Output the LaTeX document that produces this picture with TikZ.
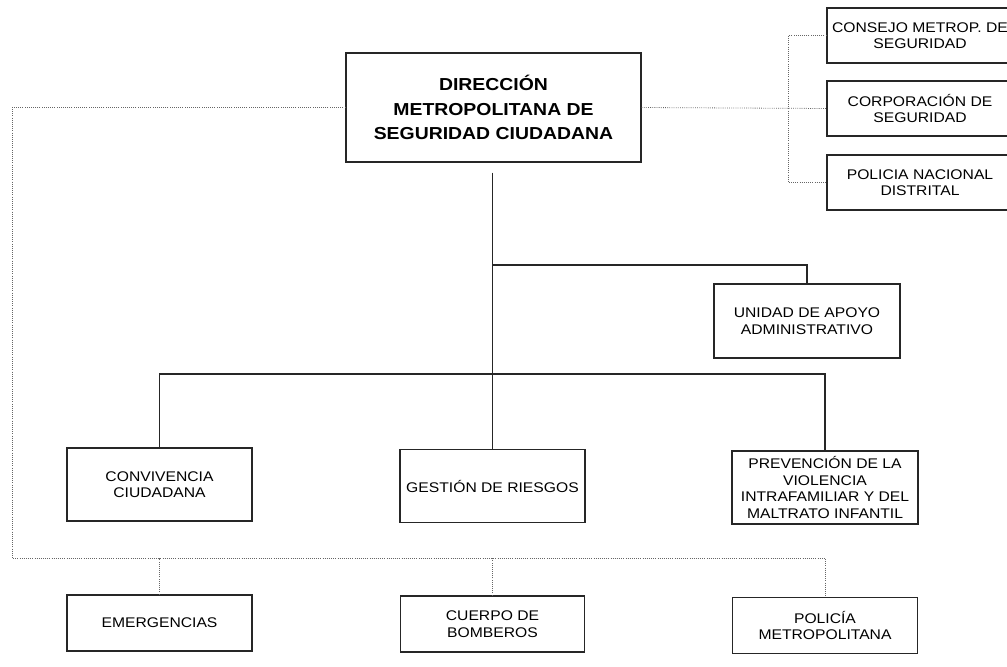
\documentclass[tikz,border=0pt]{standalone}
\usepackage{fontspec}
\setmainfont{Liberation Sans}[FakeStretch=1.12]
\tikzset{
	caja/.style={draw=black!85, line width=1pt, fill=white, align=center, inner sep=2pt,
		font=\fontsize{10.5}{12.3}\selectfont},
	cajagrande/.style={caja, font=\fontsize{13}{18.6}\selectfont\bfseries},
	linea/.style={draw=black!85, line width=0.9pt},
	punteado/.style={draw=black!60, line width=0.6pt, densely dotted}
}
\begin{document}
\begin{tikzpicture}[x=0.75pt, y=-0.75pt]
	\clip (0,0) rectangle (1007,667);
	\fill[white] (0,0) rectangle (1007,667);
	% conexiones
	\coordinate (RamaA) at (492.5,265);
	\coordinate (RamaB) at (492.5,374);
	\coordinate (Esquina) at (12,558);
	\node (Direccion) at (493.5,107.5) [cajagrande, minimum width=221.25pt, minimum height=81.75pt] {DIRECCIÓN\\METROPOLITANA DE\\SEGURIDAD CIUDADANA};
	\node (Consejo) at (920,35.5) [caja, minimum width=139.5pt, minimum height=41.25pt] {CONSEJO METROP. DE\\SEGURIDAD};
	\node (Corporacion) at (920,108.5) [caja, minimum width=139.5pt, minimum height=41.25pt] {CORPORACIÓN DE\\SEGURIDAD};
	\node (PoliciaNacional) at (920,182.5) [caja, minimum width=139.5pt, minimum height=41.25pt] {POLICIA NACIONAL\\DISTRITAL};
	\node (Unidad) at (807,321) [caja, minimum width=139.5pt, minimum height=55.5pt] {UNIDAD DE APOYO\\ADMINISTRATIVO};
	\node (Convivencia) at (159.5,484.5) [caja, minimum width=138.75pt, minimum height=54.75pt] {CONVIVENCIA\\CIUDADANA};
	\node (Gestion) at (492.5,486) [caja, minimum width=138.75pt, minimum height=54.75pt] {GESTIÓN DE RIESGOS};
	\node (Prevencion) at (825,487.5) [caja, minimum width=139.5pt, minimum height=54.75pt] {PREVENCIÓN DE LA\\VIOLENCIA\\INTRAFAMILIAR Y DEL\\MALTRATO INFANTIL};
	\node (Emergencias) at (159.5,623) [caja, minimum width=138.75pt, minimum height=42pt] {EMERGENCIAS};
	\node (Bomberos) at (492.5,624) [caja, minimum width=138pt, minimum height=42pt] {CUERPO DE\\BOMBEROS};
	\node (PoliciaMetro) at (825,625.5) [caja, minimum width=138.75pt, minimum height=42pt] {POLICÍA\\METROPOLITANA};

	\draw[linea, shorten <=7.5pt] (Direccion.south -| RamaA) -- (Gestion.north);
	\draw[linea] (RamaA) -| (Unidad.north);
	\draw[linea] (Convivencia.north) |- (RamaB) -| (Prevencion.north);

	\draw[punteado] (Direccion.east) -- (Corporacion.west);
	\draw[punteado] (Consejo.west) -- ++(-38,0) |- (PoliciaNacional.west);
	\draw[punteado] (Direccion.west) -| (Esquina) -| (PoliciaMetro.north);
	\draw[punteado] (Emergencias.north) -- (Emergencias.north |- Esquina);
	\draw[punteado] (Bomberos.north) -- (Bomberos.north |- Esquina);
\end{tikzpicture}
\end{document}
